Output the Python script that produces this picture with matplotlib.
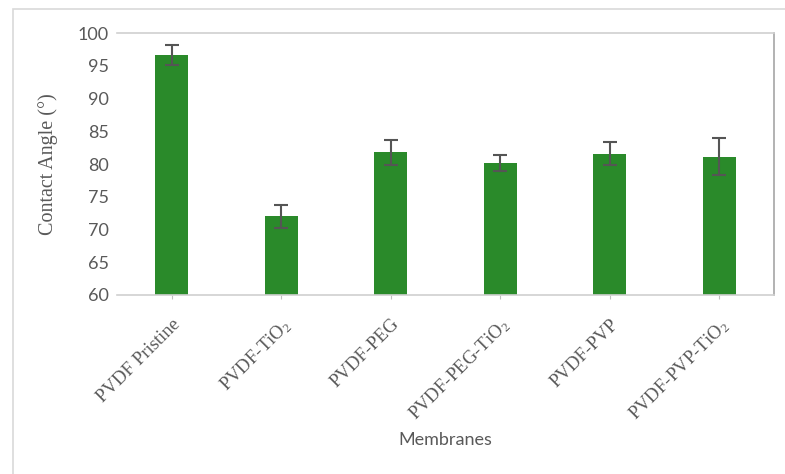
import matplotlib
matplotlib.use('Agg')
import matplotlib.pyplot as plt
from matplotlib.patches import Rectangle
import numpy as np

# 数据
membranes = ['PVDF Pristine', 'PVDF-TiO$_2$', 'PVDF-PEG', 'PVDF-PEG-TiO$_2$',
             'PVDF-PVP', 'PVDF-PVP-TiO$_2$']
contact_angle = [96.7, 72.0, 81.8, 80.2, 81.6, 81.1]
errors = [1.5, 1.8, 1.9, 1.2, 1.8, 2.8]
yticks = [60, 65, 70, 75, 80, 85, 90, 95, 100]

plt.rcParams['mathtext.fontset'] = 'custom'
plt.rcParams['mathtext.rm'] = 'Liberation Serif'
plt.rcParams['mathtext.it'] = 'Liberation Serif'

text_color = '#595959'
line_color = '#bfbfbf'

fig = plt.figure(figsize=(7.85, 4.74), dpi=100)
ax = fig.add_axes([0.149, 0.378, 0.837, 0.552])

x = np.arange(len(membranes))
ax.bar(x, contact_angle, width=0.3, color='#2a8a2a', zorder=2)
ax.errorbar(x, contact_angle, yerr=errors, fmt='none', ecolor='#555555',
            elinewidth=1.5, capsize=5, capthick=1.5, zorder=3)

ax.set_xlim(-0.5, len(membranes) - 0.5)
ax.set_ylim(60, 100)
ax.set_yticks(yticks)
ax.set_xticks(x)
ax.set_xticklabels(membranes, rotation=45, ha='right', rotation_mode='anchor',
                   family='Liberation Serif', fontsize=13.5, color=text_color)
for lab in ax.get_yticklabels():
    lab.set_family('Lato')
    lab.set_fontsize(13)
    lab.set_color(text_color)

ax.tick_params(axis='y', length=0, pad=6)
ax.tick_params(axis='x', length=3, color=line_color, pad=12)

ax.spines['left'].set_visible(False)
for s in ['top', 'bottom']:
    ax.spines[s].set_color('#d0d0d0')
    ax.spines[s].set_linewidth(1.2)
ax.spines['right'].set_color('#a6a6a6')
ax.spines['right'].set_linewidth(1.2)

ax.set_ylabel('Contact Angle (°)', family='Liberation Serif', fontsize=14.5,
              color=text_color, labelpad=14)
fig.text(445 / 785, 1 - 440 / 474, 'Membranes', family='Lato', fontsize=13,
         color=text_color, ha='center', va='center')

# 外框
fig.patches.append(Rectangle((13 / 785, -0.1), 2.0, 1 - 9 / 474 + 0.1,
                             transform=fig.transFigure, fill=False,
                             edgecolor='#d9d9d9', linewidth=1.2))

fig.savefig('out.png', dpi=100)
